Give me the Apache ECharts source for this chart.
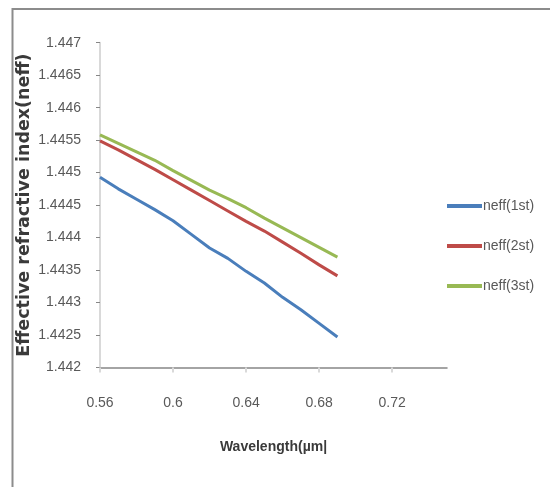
<!DOCTYPE html>
<html>
<head>
<meta charset="utf-8">
<script src="https://cdn.jsdelivr.net/npm/echarts@6/dist/echarts.min.js"></script>
<style>
html,body{margin:0;padding:0;background:#fff;}
#chart{width:550px;height:487px;}
</style>
</head>
<body>
<div id="chart"></div>
<script>
var wavelengths = [0.56, 0.57, 0.58, 0.59, 0.60, 0.61, 0.62, 0.63, 0.64, 0.65, 0.66, 0.67, 0.68, 0.69];
var neff1 = [1.44493, 1.44475, 1.44459, 1.44443, 1.44426, 1.44405, 1.44384, 1.44368, 1.44348, 1.44330, 1.44308, 1.44289, 1.44268, 1.44247];
var neff2 = [1.44549, 1.44535, 1.44520, 1.44505, 1.44489, 1.44473, 1.44457, 1.44441, 1.44425, 1.44410, 1.44393, 1.44376, 1.44358, 1.44341];
var neff3 = [1.44558, 1.44545, 1.44532, 1.44519, 1.44503, 1.44488, 1.44473, 1.44460, 1.44446, 1.44430, 1.44415, 1.44400, 1.44385, 1.44370];
var seriesNames = ['neff(1st)', 'neff(2st)', 'neff(3st)'];
var xTicks = [0.56, 0.6, 0.64, 0.68, 0.72];
var xTitle = 'Wavelength(µm|';
var yTitle = 'Effective refractive index(neff)';

function pairs(xs, ys) { return xs.map(function (x, i) { return [x, ys[i]]; }); }

var fam = '"Liberation Sans", Arial, sans-serif';
var labelFont = {color: '#595959', fontFamily: fam, fontSize: 14};
var colors = ['#4a7ebb', '#be4b48', '#98b954'];
var chart = echarts.init(document.getElementById('chart'), null, {renderer: 'canvas'});
chart.setOption({
  animation: false,
  backgroundColor: '#fff',
  graphic: [{
    type: 'rect', left: 10, top: 6.5, shape: {x: 0, y: 0, width: 600, height: 479},
    style: {fill: 'none', stroke: '#8c8c8c', lineWidth: 2}, silent: true, z: 0
  }],
  grid: {left: 100, right: 103, top: 42.7, bottom: 119.5, containLabel: false},
  legend: {
    orient: 'vertical', left: 447, top: 198.5, padding: 0,
    itemWidth: 35, itemHeight: 4, itemGap: 25, icon: 'rect',
    data: seriesNames,
    textStyle: {color: '#595959', fontFamily: fam, fontSize: 14, lineHeight: 15, padding: [0, 0, 0, -4]}
  },
  xAxis: {
    type: 'value', min: 0.56, max: 0.75, interval: 0.04,
    splitLine: {show: false},
    axisLine: {show: true, lineStyle: {color: '#868686', width: 1.5}},
    axisTick: {show: true, customValues: xTicks, length: 5, lineStyle: {color: '#d9d9d9', width: 2}},
    axisLabel: Object.assign({margin: 29, customValues: xTicks, formatter: function (v) { return String(parseFloat(v.toFixed(4))); }}, labelFont),
    name: xTitle, nameLocation: 'middle', nameGap: 73, nameMoveOverlap: false,
    nameTextStyle: {color: '#3a3a3a', fontFamily: fam, fontSize: 14, fontWeight: 'bold'}
  },
  yAxis: {
    type: 'value', min: 1.442, max: 1.447, interval: 0.0005,
    splitLine: {show: false},
    axisLine: {show: true, lineStyle: {color: '#d9d9d9', width: 2}},
    axisTick: {show: true, length: 4, lineStyle: {color: '#868686', width: 1}},
    axisLabel: Object.assign({margin: 19, formatter: function (v) { return String(parseFloat(v.toFixed(5))); }}, labelFont),
    name: yTitle, nameLocation: 'middle', nameGap: 67, nameRotate: 90, nameMoveOverlap: false,
    nameTextStyle: {color: '#3a3a3a', fontFamily: '"DejaVu Sans", Verdana, sans-serif', fontSize: 17.5, fontWeight: 'bold'}
  },
  series: [neff1, neff2, neff3].map(function (ys, i) {
    return {
      name: seriesNames[i], type: 'line', data: pairs(wavelengths, ys),
      showSymbol: false, symbol: 'none', smooth: false,
      lineStyle: {color: colors[i], width: 3}, itemStyle: {color: colors[i]}
    };
  })
});
</script>
</body>
</html>
